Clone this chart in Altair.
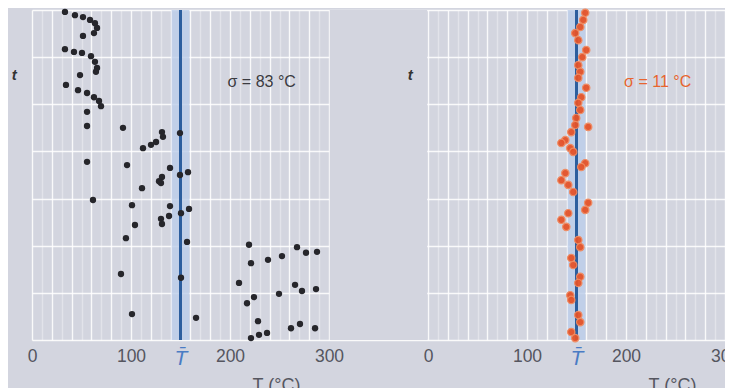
import altair as alt
import pandas as pd

T_BAR = 150

left_T = [33.3, 43.4, 51.5, 58.6, 63.6, 65.7, 62.6, 51.5,
          33.3, 42.4, 50.5, 59.6, 63.6, 65.7, 64.6, 48.5,
          34.3, 46.5, 55.6, 62.6, 67.7, 69.7, 55.6, 55.6,
          91.9, 131.3, 132.3, 125.3, 120.2, 112.1, 149.5,
          55.6, 96.0, 139.4, 157.6, 149.5, 131.3, 128.3, 130.3, 111.1,
          61.6, 101.0, 139.4, 158.6, 150.5, 138.4, 130.3, 131.3, 104.0,
          94.9, 156.6, 89.9, 150.5, 101.0, 165.7,
          219.2, 221.2, 238.4, 252.5, 267.7, 276.8, 287.9,
          209.1, 249.5, 265.7, 272.7, 286.9, 224.2, 217.2,
          228.3, 221.2, 229.3, 237.4, 261.6, 270.7, 285.9]
left_t = [69.6, 68.9, 68.5, 67.9, 67.2, 66.2, 65.1, 64.5,
          61.7, 61.1, 60.9, 60.2, 59.0, 57.7, 56.9, 56.2,
          54.1, 53.0, 52.4, 51.5, 50.7, 49.6, 48.4, 45.4,
          45.0, 44.1, 43.1, 42.0, 41.4, 40.7, 43.9,
          37.8, 37.1, 36.5, 35.6, 35.0, 34.6, 33.7, 33.3, 32.2,
          29.7, 28.6, 28.4, 27.8, 26.9, 26.3, 25.7, 24.6, 24.4,
          21.6, 20.8, 14.0, 13.2, 5.5, 4.7,
          20.2, 16.3, 17.0, 17.8, 19.7, 18.5, 18.7,
          12.1, 9.8, 11.7, 10.4, 10.8, 9.1, 7.8,
          4.0, 0.4, 1.1, 1.5, 2.5, 3.4, 2.5]

right_T = [158.8, 156.8, 153.8, 148.7, 151.8, 159.8, 155.8, 151.8, 153.8, 151.8,
           159.8, 154.8, 151.8, 153.8, 149.7, 148.7, 144.7, 161.8, 138.7, 134.7,
           143.7, 146.7, 158.8, 154.8, 138.7, 134.7, 141.7, 146.7, 161.8, 158.8,
           141.7, 134.7, 139.7, 151.8, 153.8, 144.7, 146.7, 153.8, 151.8, 143.7,
           144.7, 151.8, 153.8, 144.7, 148.7]
right_t = [69.4, 67.9, 66.4, 65.1, 63.6, 61.5, 60.0, 58.3, 56.9, 55.6,
           53.5, 51.5, 50.3, 48.8, 47.1, 45.6, 44.1, 45.2, 42.4, 41.8,
           40.7, 39.9, 37.5, 36.7, 35.4, 33.9, 32.9, 31.4, 29.1, 27.6,
           26.9, 25.5, 24.0, 21.2, 19.7, 17.4, 15.9, 13.4, 12.1, 9.5,
           8.5, 5.3, 3.8, 1.7, 0.4]

x_label_values = [0, 100, 200, 300]
sigma_labels = ["σ = 83 °C", "σ = 11 °C"]
x_title = "T (°C)"
y_title = "t"

# layout: both panels share one x scale; the right panel is shifted by OFFSET
OFFSET = 400
T_MAX = 300
BG = "#d3d5df"
LABEL = "#55565f"
BLUE = "#2c5e9e"
BAND = "#bccdea"
ORANGE = "#e4532a"
X_END = T_MAX + OFFSET
W = 693
H = 330

grid_vals = list(range(0, T_MAX + 1, 10)) + [v + OFFSET for v in range(0, T_MAX + 1, 10)]
lab_list = ",".join(str(v) for v in x_label_values)
base_v = f"(datum.value >= {OFFSET} ? datum.value - {OFFSET} : datum.value)"
label_expr = (
    f"{base_v} == {T_BAR} ? 'T\u0304' : "
    f"(indexof([{lab_list}], {base_v}) >= 0 ? toString({base_v}) : '')"
)
is_bar = f"datum.value == {T_BAR} || datum.value == {T_BAR + OFFSET}"

xscale = alt.Scale(domain=[0, X_END], nice=False, zero=False)
yscale = alt.Scale(domain=[0, 70], nice=False, zero=False)
xaxis = alt.Axis(
    values=grid_vals, labelExpr=label_expr, ticks=False, domain=False,
    grid=True, gridColor="white", gridWidth=1.4,
    gridOpacity=alt.condition("datum.value % 20 == 0", alt.value(0.85), alt.value(0.35)),
    labelColor=alt.condition(is_bar, alt.value("#4a7cc4"), alt.value(LABEL)),
    labelFontStyle=alt.condition(is_bar, alt.value("italic"), alt.value("normal")),
    labelFontSize=alt.condition(is_bar, alt.value(21), alt.value(17.5)),
    labelPadding=7, labelFont="Liberation Sans",
    labelOverlap=False, labelFlush=False, labelBound=False, title=None,
)
yaxis = alt.Axis(
    values=list(range(0, 71, 10)), labels=False, ticks=False, domain=False,
    grid=True, gridColor="white", gridWidth=1.4, gridOpacity=0.85, title=None,
)

X = lambda f: alt.X(f, type="quantitative", scale=xscale, axis=xaxis)
Y = lambda f: alt.Y(f, type="quantitative", scale=yscale, axis=yaxis)

left_df = pd.DataFrame({"T": left_T, "t": left_t, "panel": "left"})
right_df = pd.DataFrame({"T": right_T, "t": right_t, "panel": "right"})
shift = f"datum.panel == 'right' ? {OFFSET} : 0"

left_pts = alt.Chart(left_df).transform_calculate(
    xp=f"datum.T + ({shift})"
).mark_circle(size=40, color="#26262b", opacity=1).encode(x=X("xp"), y=Y("t"))

right_pts = alt.Chart(right_df).transform_calculate(
    xp=f"datum.T + ({shift})"
).mark_point(filled=True, size=55, fill=ORANGE, stroke="#f08a60",
             strokeWidth=1.2, opacity=0.95).encode(x=X("xp"), y=Y("t"))

panels = pd.DataFrame({
    "panel": ["left", "right"],
    "sigma": sigma_labels,
})
base = alt.Chart(panels).transform_calculate(
    bar=f"{T_BAR} + ({shift})",
    band_a=f"{T_BAR - 9} + ({shift})",
    band_b=f"{T_BAR + 9} + ({shift})",
    sig_x=f"232 + ({shift})",
    tt_x=f"-18 + ({shift})",
    xt_x=f"247 + ({shift})",
    sig_y="54.7",
    tt_y="56.2",
    gap_a=f"{T_MAX} + 0.8",
    gap_b=f"{OFFSET} - 0.8",
    xtitle=f"'{x_title}'",
    ytitle=f"'{y_title}'",
)

gap_cover = base.transform_filter("datum.panel == 'left'").mark_rect(color=BG).encode(
    x=X("gap_a"), x2="gap_b:Q")
band = base.mark_rect(color=BAND, opacity=0.8).encode(x=X("band_a"), x2="band_b:Q")
rule = base.mark_rule(color=BLUE, strokeWidth=3).encode(x=X("bar"))

sig_txt = base.mark_text(fontSize=16, font="Liberation Sans").encode(
    x=X("sig_x"), y=Y("sig_y"), text="sigma:N",
    color=alt.Color("panel:N", scale=alt.Scale(domain=["left", "right"], range=["#3a3a40", "#e8652e"]),
                    legend=None),
)
t_txt = base.mark_text(fontSize=15, font="Liberation Sans", fontStyle="italic",
                       fontWeight="bold", color="#333").encode(
    x=X("tt_x"), y=Y("tt_y"), text="ytitle:N")
x_txt = base.mark_text(fontSize=18, font="Liberation Sans", color=LABEL, baseline="top").encode(
    x=X("xt_x"), y=alt.value(H + 37), text="xtitle:N")

chart = alt.layer(
    gap_cover, band, rule, left_pts, right_pts, sig_txt, t_txt, x_txt
).properties(
    width=W, height=H,
    background=BG,
    autosize=alt.AutoSizeParams(type="none"),
    padding={"left": 24, "top": 2, "right": 0, "bottom": 48},
).configure_view(stroke=None).configure(font="Liberation Sans")

chart.save("out.html", embed_options={"renderer": "svg", "actions": False})
